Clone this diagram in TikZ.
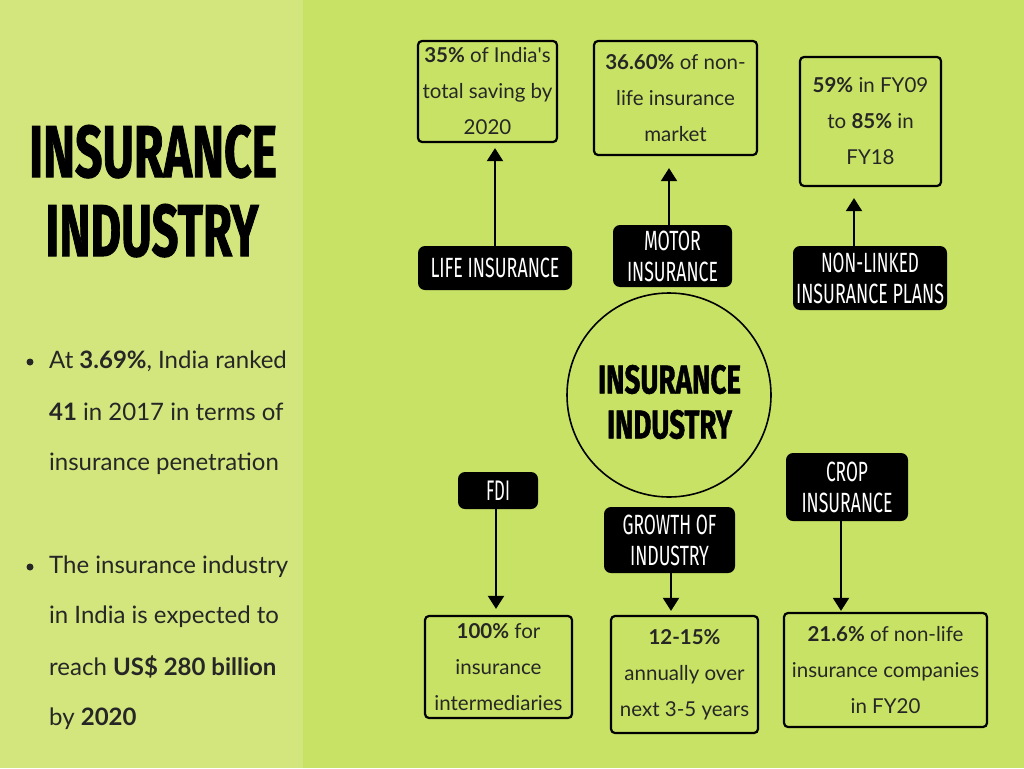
\documentclass[tikz,border=0pt]{standalone}
\usepackage{fontspec}
\setmainfont{Lato}
\newfontfamily\bnfont{Fira Sans}
\newfontfamily\bntitle{Fira Sans}[BoldFeatures={FakeBold=1.5}]
\usetikzlibrary{arrows.meta}
\definecolor{leftbg}{HTML}{D3E67E}
\definecolor{rightbg}{HTML}{C8E265}
\definecolor{textdark}{HTML}{262626}
\newcommand\bnl[2]{\resizebox{#1pt}{19.5pt}{\bnfont #2}}
\newcommand\bnt[3]{\resizebox{#1pt}{#2pt}{\bntitle\bfseries #3}}
\newcommand\apos{\XeTeXglyph\XeTeXcharglyph"27\relax}
\tikzset{
  databox/.style={draw=black, line width=2.2pt, rounded corners=4pt, inner sep=0pt,
    align=center, text=textdark, font=\fontsize{20.5}{36}\selectfont},
  labelbox/.style={fill=black, rounded corners=7pt, inner sep=0pt, align=center,
    text=white, font=\fontsize{19.5}{31}\selectfont},
  lefttext/.style={inner sep=0pt, anchor=base west, text=textdark, font=\fontsize{24}{28}\selectfont},
  bulletdot/.style={circle, fill=textdark, minimum size=7pt, inner sep=0pt},
  arr/.style={line width=2pt, -{Triangle[width=16pt,length=13pt]}},
}
\begin{document}
\begin{tikzpicture}[x=1pt,y=-1pt]
\useasboundingbox (0,0) rectangle (1024,768);
\fill[leftbg] (0,0) rectangle (303,768);
\fill[rightbg] (303,0) rectangle (1024,768);

% left title
\node[inner sep=0pt, anchor=base] (t1) at (153,177) {\bnt{248}{52}{INSURANCE}};
\node[inner sep=0pt, anchor=base] (t2) at (152,256) {\bnt{213}{52}{INDUSTRY}};

% left bullets
\node[bulletdot] (b1) at (30,362) {};
\node[lefttext] (p1a) at (49,368) {At \textbf{3.69\%}, India ranked};
\node[lefttext] (p1b) at (49,420) {\textbf{41} in 2017 in terms of};
\node[lefttext] (p1c) at (49,470) {insurance penetration};
\node[bulletdot] (b2) at (30,567) {};
\node[lefttext] (p2a) at (49,573) {The insurance industry};
\node[lefttext] (p2b) at (49,623) {in India is expected to};
\node[lefttext] (p2c) at (49,675) {reach \textbf{US\$ 280 billion}};
\node[lefttext] (p2d) at (49,725) {by \textbf{2020}};

% centre circle
\node[draw=black, line width=1.6pt, circle, minimum size=204pt, inner sep=0pt] (c) at (669,395) {};
\node[inner sep=0pt, align=center, font=\fontsize{28}{45}\selectfont] (ct) at (669.5,402)
  {\bnt{143}{28.5}{INSURANCE}\\\bnt{125}{28.5}{INDUSTRY}};

% data boxes
\node[databox, minimum width=139pt, minimum height=101pt] (d1) at (487.5,91.5)
  {\textbf{35\%} of India\apos s\\total saving by\\2020};
\node[databox, minimum width=163pt, minimum height=114pt] (d2) at (675.5,98)
  {\textbf{36.60\%} of non-\\life insurance\\market};
\node[databox, minimum width=141pt, minimum height=129pt] (d3) at (870.5,121.5)
  {\textbf{59\%} in FY09\\to \textbf{85\%} in\\FY18};
\node[databox, minimum width=147pt, minimum height=102pt] (d4) at (498.5,667)
  {\textbf{100\%} for\\insurance\\intermediaries};
\node[databox, minimum width=147pt, minimum height=117pt] (d5) at (684.5,674.5)
  {\textbf{12-15\%}\\annually over\\next 3-5 years};
\node[databox, minimum width=203pt, minimum height=114pt] (d6) at (885.5,670)
  {\textbf{21.6\%} of non-life\\insurance companies\\in FY20};

% labels
\node[labelbox, minimum width=154pt, minimum height=44pt] (l1) at (495,268)
  {\bnl{129}{LIFE INSURANCE}};
\node[labelbox, minimum width=119pt, minimum height=62pt] (l2) at (672.5,256)
  {\bnl{57}{MOTOR}\\\bnl{91}{INSURANCE}};
\node[labelbox, minimum width=154pt, minimum height=64pt] (l3) at (870,278)
  {\bnl{98}{NON-LINKED}\\\bnl{148}{INSURANCE PLANS}};
\node[labelbox, minimum width=80pt, minimum height=37pt] (l4) at (498,490.5)
  {\bnl{24}{FDI}};
\node[labelbox, minimum width=131pt, minimum height=66pt] (l5) at (669.5,540)
  {\bnl{94}{GROWTH OF}\\\bnl{79}{INDUSTRY}};
\node[labelbox, minimum width=122pt, minimum height=68pt] (l6) at (847,487)
  {\bnl{42}{CROP}\\\bnl{91}{INSURANCE}};

% arrows
\draw[arr, shorten >=5pt] (l1.north) -- (l1.north |- d1.south);
\draw[arr, shorten >=12pt] ([xshift=-3.5pt]l2.north) -- ([xshift=-3.5pt]l2.north |- d2.south);
\draw[arr, shorten >=11pt] ([xshift=-16pt]l3.north) -- ([xshift=-16pt]l3.north |- d3.south);
\draw[arr, shorten >=6pt] ([xshift=-2pt]l4.south) -- ([xshift=-2pt]l4.south |- d4.north);
\draw[arr, shorten >=4pt] ([xshift=1.5pt]l5.south) -- ([xshift=1.5pt]l5.south |- d5.north);
\draw[arr, shorten >=1pt] ([xshift=-6pt]l6.south) -- ([xshift=-6pt]l6.south |- d6.north);
\end{tikzpicture}
\end{document}
